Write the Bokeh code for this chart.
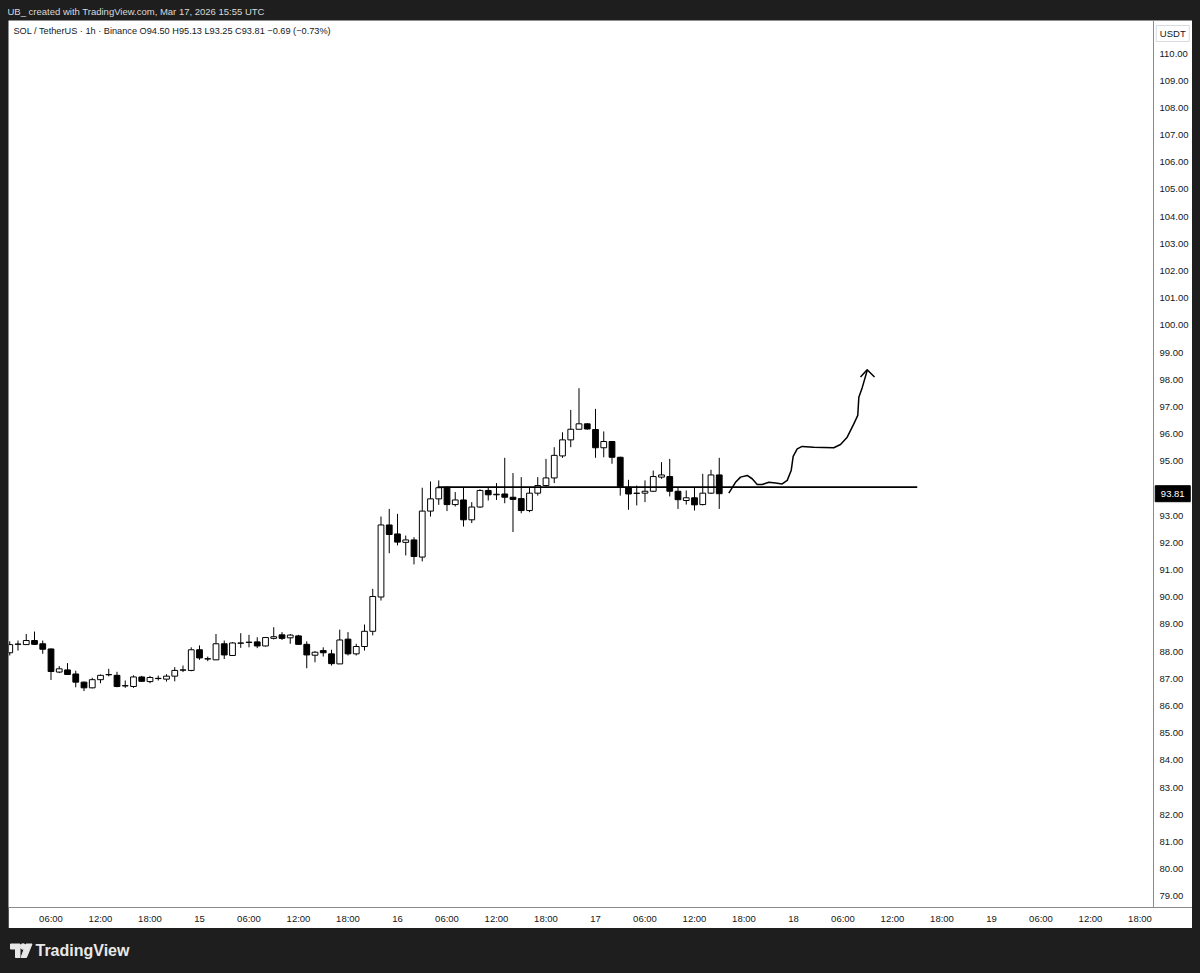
from bokeh.plotting import figure
from bokeh.models import (Range1d, FixedTicker, PrintfTickFormatter, Label, LinearAxis,
                          GlobalInlineStyleSheet, Spacer)
from bokeh.layouts import column, row
from bokeh.embed import file_html
from bokeh.resources import INLINE
from bokeh.core.properties import value

# ---- data: hourly candles, hour index counted from Mar 14 00:00 UTC ----
hours = list(range(1, 88))
opens = [87.96, 88.27, 88.26, 88.41, 88.29, 88.10, 87.25, 87.33, 87.18, 86.88,
         86.67, 86.97, 87.15, 87.13, 86.74, 86.72, 87.07, 86.90, 87.01, 86.99,
         87.10, 87.32, 87.31, 88.07, 87.74, 87.70, 88.29, 87.86, 88.31, 88.34,
         88.36, 88.21, 88.49, 88.62, 88.51, 88.58, 88.27, 87.87, 88.04, 87.92,
         87.55, 88.46, 87.92, 88.19, 88.75, 90.01, 92.66, 92.33, 92.02, 92.11,
         91.48, 93.17, 93.62, 94.05, 93.41, 93.58, 92.85, 93.32, 93.93, 93.77,
         93.80, 93.68, 93.63, 93.19, 93.83, 94.11, 94.39, 95.20, 95.79, 96.18,
         96.38, 96.17, 95.50, 95.73, 95.15, 94.05, 93.82, 93.83, 93.90, 94.42,
         94.44, 93.90, 93.56, 93.66, 93.41, 93.83, 94.50]
highs = [88.38, 88.41, 88.65, 88.74, 88.41, 88.12, 87.47, 87.58, 87.30, 86.90,
         87.04, 87.16, 87.37, 87.26, 86.94, 87.13, 87.11, 87.11, 87.12, 87.17,
         87.43, 87.49, 88.16, 88.23, 87.82, 88.65, 88.41, 88.35, 88.68, 88.62,
         88.53, 88.54, 88.90, 88.72, 88.65, 88.62, 88.38, 88.02, 88.16, 88.07,
         88.81, 88.72, 88.29, 89.00, 90.31, 92.97, 93.25, 93.07, 92.27, 92.21,
         94.03, 94.26, 94.30, 94.07, 93.87, 94.05, 93.50, 93.97, 94.03, 94.20,
         95.13, 94.57, 94.42, 94.05, 94.42, 95.09, 95.52, 96.07, 96.89, 97.69,
         96.40, 96.93, 96.10, 95.75, 95.17, 94.32, 94.11, 94.30, 94.66, 94.97,
         95.09, 94.05, 93.93, 94.05, 94.54, 94.69, 95.13]
lows = [87.86, 88.04, 88.26, 88.25, 87.92, 86.96, 87.21, 87.15, 86.69, 86.55,
        86.65, 86.84, 87.09, 86.69, 86.67, 86.67, 86.89, 86.84, 86.94, 86.90,
        86.91, 87.25, 87.28, 87.70, 87.65, 87.70, 87.73, 87.86, 88.14, 88.16,
        88.13, 88.19, 88.45, 88.43, 88.29, 88.25, 87.39, 87.61, 87.82, 87.49,
        87.55, 87.86, 87.86, 88.04, 88.60, 89.88, 91.62, 91.91, 91.54, 91.21,
        91.32, 92.97, 93.40, 93.17, 93.34, 92.60, 92.73, 93.29, 93.56, 93.58,
        93.46, 92.40, 93.09, 93.13, 93.74, 94.08, 94.20, 95.13, 95.52, 96.18,
        96.17, 95.13, 95.15, 94.91, 93.74, 93.22, 93.38, 93.50, 93.87, 94.36,
        93.71, 93.25, 93.41, 93.19, 93.38, 93.80, 93.25]
closes = [88.26, 88.28, 88.41, 88.27, 88.09, 87.27, 87.37, 87.16, 86.88, 86.67,
          86.97, 87.13, 87.16, 86.72, 86.75, 87.07, 86.91, 87.05, 87.02, 87.10,
          87.31, 87.33, 88.07, 87.77, 87.73, 88.29, 87.88, 88.32, 88.32, 88.35,
          88.21, 88.52, 88.55, 88.49, 88.61, 88.27, 87.88, 87.98, 87.96, 87.56,
          88.43, 87.92, 88.19, 88.75, 90.03, 92.66, 92.31, 92.03, 92.11, 91.50,
          93.17, 93.62, 94.03, 93.41, 93.58, 92.85, 93.32, 93.93, 93.77, 93.79,
          93.68, 93.60, 93.19, 93.83, 94.11, 94.39, 95.22, 95.79, 96.18, 96.38,
          96.19, 95.50, 95.73, 95.15, 94.05, 93.80, 93.83, 93.90, 94.44, 94.50,
          93.90, 93.59, 93.66, 93.40, 93.83, 94.50, 93.81]
last_price = 93.81
quote_currency = "USDT"

# drawn support level
level_hours = [52.85, 111.0]
level_prices = [94.05, 94.05]

# hand-drawn projection path and arrow head
path_hours = [88.16, 88.97, 89.58, 90.39, 90.99, 91.60, 92.21, 93.01, 93.82, 94.63,
              95.24, 95.72, 95.96, 96.45, 97.05, 98.46, 100.88, 101.70, 102.51, 103.31,
              103.79, 103.92, 104.33, 104.93]
path_prices = [93.83, 94.23, 94.42, 94.48, 94.36, 94.15, 94.15, 94.23, 94.20, 94.17,
               94.30, 94.66, 95.18, 95.46, 95.55, 95.52, 95.50, 95.62, 95.89, 96.38,
               96.69, 97.36, 97.71, 98.34]
arrow_hours = [104.12, 104.93, 105.82]
arrow_prices = [98.10, 98.37, 98.10]

price_ticks = list(range(79, 111))
time_ticks = [6, 12, 18, 24, 30, 36, 42, 48, 54, 60, 66, 72, 78, 84, 90, 96,
              102, 108, 114, 120, 126, 132, 138]
time_labels = ["06:00", "12:00", "18:00", "15", "06:00", "12:00", "18:00", "16",
               "06:00", "12:00", "18:00", "17", "06:00", "12:00", "18:00", "18",
               "06:00", "12:00", "18:00", "19", "06:00", "12:00", "18:00"]

header_text = "UB_ created with TradingView.com, Mar 17, 2026 15:55 UTC"
legend_text = "SOL / TetherUS \u00b7 1h \u00b7 Binance  O94.50  H95.13  L93.25  C93.81  \u22120.69 (\u22120.73%)"

DARK = "#1e1e1e"
INK = "#131722"
AXIS_GRAY = "#8a8a8a"
FONT = "Liberation Sans"

# ---- header strip ----
hdr = figure(width=1200, height=20, x_range=Range1d(0, 1200), y_range=Range1d(20, 0),
             x_axis_type=None, y_axis_type=None, min_border=0,
             toolbar_location=None, output_backend="svg")
hdr.background_fill_color = DARK
hdr.border_fill_color = DARK
hdr.outline_line_color = None
hdr.grid.visible = False
hdr.add_layout(Label(x=7, y=11, text=header_text, text_color="#dadada",
                     text_font=FONT, text_font_size="9.5px",
                     text_baseline="middle", text_align="left"))

# ---- main chart (frame spans chart pane + price-scale strip) ----
X_START, X_END = 0.8485, 144.364      # hours at left / right edges of the frame
SCALE_AT = 139.636                    # hour position of the price-scale separator
TAG_AT = 141.97                       # centre of the price-scale strip

p = figure(width=1184, height=908,
           x_range=Range1d(X_START, X_END), y_range=Range1d(78.591, 111.214),
           y_axis_location=None, toolbar_location=None, output_backend="svg",
           min_border_left=0, min_border_right=0, min_border_top=0, min_border_bottom=21)
p.background_fill_color = "white"
p.border_fill_color = "white"
p.outline_line_color = None
p.grid.visible = False

up = [c >= o for o, c in zip(opens, closes)]
tops = [max(o, c) for o, c in zip(opens, closes)]
bots = [min(o, c) for o, c in zip(opens, closes)]
colors = ["white" if u else "black" for u in up]

p.segment(x0=hours, y0=lows, x1=hours, y1=highs, line_color="black", line_width=1)
p.vbar(x=hours, width=0.7, top=tops, bottom=bots, fill_color=colors,
       line_color="black", line_width=1)

p.line(level_hours, level_prices, line_color="black", line_width=1.8)
p.line(path_hours, path_prices, line_color="black", line_width=1.5, line_join="round")
p.line(arrow_hours, arrow_prices, line_color="black", line_width=1.5, line_join="round")

# time axis
xa = p.xaxis[0]
xa.ticker = FixedTicker(ticks=time_ticks)
xa.major_label_overrides = {t: s for t, s in zip(time_ticks, time_labels)}
xa.axis_line_color = AXIS_GRAY
xa.major_tick_line_color = None
xa.minor_tick_line_color = None
xa.major_tick_out = 0
xa.major_tick_in = 0
xa.minor_tick_out = 0
xa.major_label_standoff = 5
xa.major_label_text_font = FONT
xa.major_label_text_font_size = "9.5px"
xa.major_label_text_color = INK

# price axis at the separator
ya = LinearAxis(fixed_location=SCALE_AT, ticker=FixedTicker(ticks=price_ticks),
                formatter=PrintfTickFormatter(format="%.2f"))
ya.axis_line_color = AXIS_GRAY
ya.major_tick_line_color = None
ya.minor_tick_line_color = None
ya.major_tick_out = 0
ya.major_tick_in = 0
ya.minor_tick_out = 0
ya.major_label_standoff = 6
ya.major_label_text_font = FONT
ya.major_label_text_font_size = "9.5px"
ya.major_label_text_color = INK
p.add_layout(ya, "right")

p.add_layout(Label(x=1.45, y=110.846, text=legend_text, text_color=INK,
                   text_font=FONT, text_font_size="9.2px",
                   text_baseline="middle", text_align="left"))

# currency box and last-price tag on the price scale
p.rect(x=[TAG_AT], y=[110.736], width=33, height=16, width_units="screen",
       height_units="screen", fill_color="white", line_color="#d9dbe0", line_width=1,
       level="overlay")
p.text(x=[TAG_AT], y=[110.736], text=[quote_currency], text_color=INK,
       text_font=value(FONT), text_font_size="9.5px", text_align="center",
       text_baseline="middle", level="overlay")
p.rect(x=[TAG_AT], y=[last_price], width=35, height=16, width_units="screen",
       height_units="screen", fill_color="black", line_color="black", level="overlay")
p.text(x=[TAG_AT], y=[last_price], text=["%.2f" % last_price], text_color="white",
       text_font=value(FONT), text_font_size="9.5px", text_align="center",
       text_baseline="middle", level="overlay")

# ---- footer strip ----
ftr = figure(width=1200, height=44, x_range=Range1d(0, 1200), y_range=Range1d(44, 0),
             x_axis_type=None, y_axis_type=None, min_border=0,
             toolbar_location=None, output_backend="svg")
ftr.background_fill_color = DARK
ftr.border_fill_color = DARK
ftr.outline_line_color = None
ftr.grid.visible = False
ftr.patch([10, 19.5, 19.5, 15, 15, 10], [15.5, 15.5, 29, 29, 20.5, 20.5], color="#e8e8e8")
ftr.scatter([22.5], [18], size=5.5, color="#e8e8e8")
ftr.patch([25.5, 31.5, 26, 20.5], [15.5, 15.5, 29, 29], color="#e8e8e8")
ftr.add_layout(Label(x=35, y=22, text="TradingView", text_color="#e8e8e8",
                     text_font=FONT, text_font_size="16px",
                     text_font_style="bold", text_baseline="middle", text_align="left"))

main_row = row(Spacer(width=8, height=908), p, spacing=0)
layout = column(hdr, main_row, ftr, spacing=0,
                stylesheets=[GlobalInlineStyleSheet(css="body{background-color:#1e1e1e;}")])

open("out.html", "w").write(file_html(layout, INLINE))
